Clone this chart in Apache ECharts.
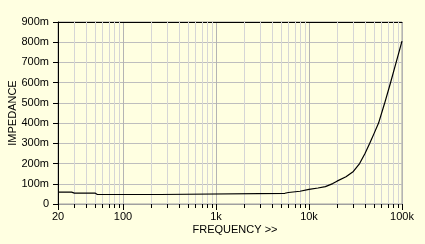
<!DOCTYPE html>
<html><head><meta charset="utf-8">
<script src="https://cdn.jsdelivr.net/npm/echarts@6/dist/echarts.min.js"></script>
<style>html,body{margin:0;padding:0;background:#FFFFE1;}#c{width:425px;height:244px;}</style>
</head><body><div id="c"></div>
<script>
// Frequency (Hz) and impedance (mΩ)
const freqs = [20, 28, 30, 50, 53, 250, 260, 5500, 6000, 8000, 10000, 12500, 15000, 18000, 20000, 25000, 30000, 35000, 40000, 45000, 50000, 56000, 65000, 75000, 84000, 92000, 100000];
const impedance = [59, 59, 54, 54, 47, 47, 53, 53, 57, 63, 72, 79, 86, 101, 113, 135, 161, 200, 250, 300, 348, 400, 498, 597, 679, 745, 805];
const minorFreqs = [30,40,50,60,70,80,90,200,300,400,500,600,700,800,900,2000,3000,4000,5000,6000,7000,8000,9000,20000,30000,40000,50000,60000,70000,80000,90000];
const xTickLabels = {20:'20',100:'100',1000:'1k',10000:'10k',100000:'100k'};
const yMin = 0, yMax = 900, yStep = 100;

const font = 'Liberation Sans, Arial, sans-serif';
const chart = echarts.init(document.getElementById('c'), null, {renderer:'canvas'});
chart.setOption({
  backgroundColor: '#FFFFE1',
  animation: false,
  grid: {left:58, right:23, top:22, bottom:40, show:true, borderColor:'#A0A0A0', borderWidth:1, backgroundColor:'transparent', containLabel:false, outerBoundsMode:'none'},
  xAxis: [{
    type:'log', logBase:10, min:20, max:100000,
    name:'FREQUENCY >>', nameLocation:'middle', nameGap:20, nameMoveOverlap:false,
    nameTextStyle:{color:'#000', fontFamily:font, fontSize:11, padding:[0,0,0,10]},
    axisLine:{show:true, lineStyle:{color:'#A0A0A0', width:1}},
    axisTick:{show:true, length:6, lineStyle:{color:'#000'}},
    axisLabel:{color:'#000', fontFamily:font, fontSize:11, margin:7,
      formatter:v=>xTickLabels[Math.round(v)] ?? ''},
    splitLine:{show:true, lineStyle:{color:'#B4B4B4', width:1}},
    minorTick:{show:false}, minorSplitLine:{show:false}
  },{
    type:'log', logBase:10, min:20, max:100000, position:'top',
    axisLine:{show:true, lineStyle:{color:'#000', width:1}},
    axisTick:{show:false}, axisLabel:{show:false}, splitLine:{show:false}
  }],
  yAxis: {
    type:'value', min:yMin, max:yMax, interval:yStep,
    name:'IMPEDANCE', nameLocation:'middle', nameGap:40, nameMoveOverlap:false,
    nameTextStyle:{color:'#000', fontFamily:font, fontSize:11},
    axisLine:{show:true, lineStyle:{color:'#000', width:1}},
    axisTick:{show:true, length:5, lineStyle:{color:'#000'}},
    axisLabel:{color:'#000', fontFamily:font, fontSize:11, margin:9,
      formatter:v=> v===0 ? '0' : v+'m'},
    splitLine:{show:true, lineStyle:{color:'#BEBEBE', width:1}}
  },
  series: [{
    type:'custom', silent:true, clip:false, z:1,
    data: minorFreqs.map(f=>[f, yMin]),
    renderItem:(params, api)=>{
      const f = api.value(0);
      const b = api.coord([f, yMin]);
      const t = api.coord([f, yMax]);
      const x = Math.round(b[0]) + 0.5;
      return {type:'group', children:[
        {type:'line', shape:{x1:x, y1:t[1], x2:x, y2:b[1]}, style:{stroke:'#D6D6D6', lineWidth:1}},
        {type:'line', shape:{x1:x, y1:b[1], x2:x, y2:b[1]+4}, style:{stroke:'#000', lineWidth:1}}
      ]};
    }
  },{
    type:'line', z:5, showSymbol:false, symbol:'none',
    data: freqs.map((f,i)=>[f, impedance[i]]),
    lineStyle:{color:'#000', width:1.2}
  }]
});
</script></body></html>
